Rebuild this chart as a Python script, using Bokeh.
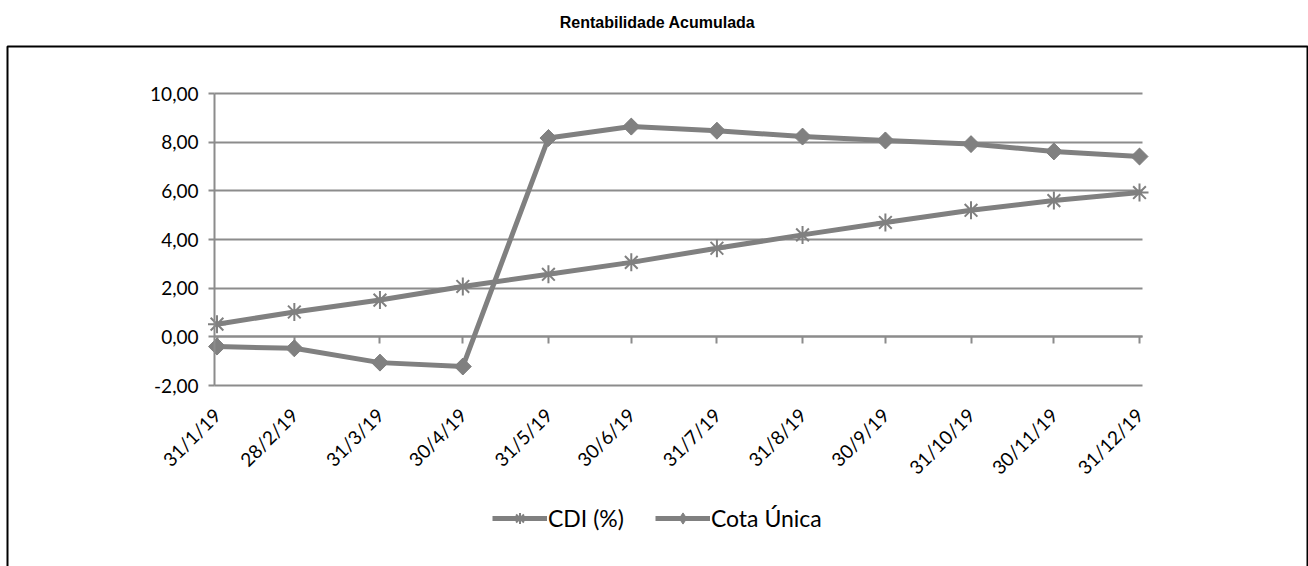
import math
import pandas as pd
from bokeh.plotting import figure
from bokeh.models import (Range1d, FixedTicker, LinearAxis, Legend, LegendItem, Label, Grid,
                          BoxAnnotation, CustomJSTickFormatter, ColumnDataSource)
from bokeh.core.properties import value
from bokeh.embed import file_html
from bokeh.resources import INLINE

# ---- data ----
title_text = "Rentabilidade Acumulada"
series_names = ["CDI (%)", "Cota Única"]
dates = ["2019-01-31", "2019-02-28", "2019-03-31", "2019-04-30", "2019-05-31", "2019-06-30",
         "2019-07-31", "2019-08-31", "2019-09-30", "2019-10-31", "2019-11-30", "2019-12-31"]
x_tick_labels = ["31/1/19", "28/2/19", "31/3/19", "30/4/19", "31/5/19", "30/6/19",
                 "31/7/19", "31/8/19", "30/9/19", "31/10/19", "30/11/19", "31/12/19"]
cdi = [0.52, 1.02, 1.51, 2.07, 2.57, 3.06, 3.64, 4.19, 4.70, 5.20, 5.60, 5.93]
cota = [-0.40, -0.47, -1.06, -1.22, 8.17, 8.64, 8.47, 8.23, 8.07, 7.92, 7.62, 7.41]
y_ticks = [-2, 0, 2, 4, 6, 8, 10]
y_tick_labels = ["-2,00", "0,00", "2,00", "4,00", "6,00", "8,00", "10,00"]

x = pd.to_datetime(dates)
x_ms = [int(t.value // 10**6) for t in x]

SERIES = "#808080"
GRID = "#8c8c8c"
FONT = "Lato"
W, H = 1308, 566

# ---- layout geometry (pixels) ----
PX_LEFT, PX_RIGHT = 214, 1142          # plot area edges
PX_FIRST, PX_LAST = 216.5, 1139        # first / last date
PY_TOP, PY_BOT = 93, 385               # y = 10 / y = -2
ky = (PY_BOT - PY_TOP) / (y_ticks[-1] - y_ticks[0])
span_days = (x[-1] - x[0]).days
kx = (PX_LAST - PX_FIRST) / span_days   # px per day


def day_offset(px):
    return pd.Timedelta(days=px / kx)


x_start = x[0] - day_offset(PX_FIRST)
x_end = x[-1] + day_offset(W - PX_LAST)
y_end = y_ticks[-1] + PY_TOP / ky
y_start = y_ticks[0] - (H - PY_BOT) / ky

x_lo = x[0] - day_offset(PX_FIRST - PX_LEFT)
x_hi = x[-1] + day_offset(PX_RIGHT - PX_LAST)
x_lo_ms = x_lo.value / 1e6
x_hi_ms = x_hi.value / 1e6

p = figure(width=W, height=H, x_axis_type=None, y_axis_type=None, output_backend="svg",
           toolbar_location=None, title=None,
           x_range=Range1d(x_start, x_end), y_range=Range1d(y_start, y_end),
           min_border=0, min_border_left=0, min_border_right=0,
           min_border_top=0, min_border_bottom=0)
p.outline_line_color = None
p.background_fill_color = "white"
p.border_fill_color = "white"

# horizontal grid lines restricted to the plot area
yg = Grid(dimension=1, ticker=FixedTicker(ticks=y_ticks), grid_line_color=GRID, grid_line_width=2)
try:
    yg.cross_bounds = (x_lo_ms, x_hi_ms)
    p.add_layout(yg, "center")
except AttributeError:
    n = len(y_ticks)
    p.segment(x0=[x_lo] * n, x1=[x_hi] * n, y0=y_ticks, y1=y_ticks,
              line_color=GRID, line_width=2, level="underlay")

src = ColumnDataSource(dict(x=x, cdi=cdi, cota=cota))
l1 = p.line("x", "cdi", source=src, line_color=SERIES, line_width=5, line_join="round")
s1 = p.scatter("x", "cdi", source=src, marker="asterisk", size=18, line_color=SERIES, line_width=2)
l2 = p.line("x", "cota", source=src, line_color=SERIES, line_width=5, line_join="round")
s2d = p.scatter("x", "cota", source=src, marker="diamond", size=16,
                fill_color=SERIES, line_color=SERIES)
s2 = p.scatter("x", "cota", source=src, marker="square", angle=math.pi / 4, size=12,
               fill_color=SERIES, line_color=SERIES)

# x axis labels, at the bottom of the plot area
xa = LinearAxis(fixed_location=y_ticks[0], bounds=(x_lo_ms, x_hi_ms),
                ticker=FixedTicker(ticks=x_ms),
                major_label_overrides=dict(zip(x_ms, x_tick_labels)),
                major_label_orientation=math.pi / 4,
                axis_line_color=None, major_tick_line_color=None, minor_tick_line_color=None,
                major_label_standoff=20, major_label_text_font=FONT,
                major_label_text_font_size="19px", major_label_text_color="black")
p.add_layout(xa, "below")

# x axis line with ticks, crossing at 0
ax0 = LinearAxis(fixed_location=0, bounds=(x_lo_ms, x_hi_ms), ticker=FixedTicker(ticks=x_ms),
                 formatter=CustomJSTickFormatter(code="return ''"),
                 axis_line_color=GRID, axis_line_width=2,
                 major_tick_out=7, major_tick_in=0, major_tick_line_color=GRID,
                 major_tick_line_width=2, minor_tick_line_color=None)
ax0.level = "underlay"
p.add_layout(ax0, "below")

# y axis
ya = LinearAxis(fixed_location=x_lo_ms, bounds=(y_ticks[0], y_ticks[-1]),
                ticker=FixedTicker(ticks=y_ticks),
                major_label_overrides=dict(zip(y_ticks, y_tick_labels)),
                axis_line_color=GRID, axis_line_width=2,
                major_tick_out=6, major_tick_in=0, major_tick_line_color=GRID,
                major_tick_line_width=2, minor_tick_line_color=None,
                major_label_standoff=10, major_label_text_font=FONT,
                major_label_text_font_size="19px", major_label_text_color="black")
p.add_layout(ya, "left")

# legend
legend = Legend(items=[LegendItem(label=value(series_names[0]), renderers=[l1, s1]),
                       LegendItem(label=value(series_names[1]), renderers=[l2, s2d])],
                location=(492, 34), orientation="horizontal",
                glyph_width=55, glyph_height=28, label_standoff=1, spacing=31,
                padding=0, margin=0, border_line_color=None, background_fill_alpha=0,
                label_text_font=FONT, label_text_font_size="23px", label_text_color="black")
p.add_layout(legend)

# title and outer box
p.add_layout(Label(x=657, y=H - 22, x_units="screen", y_units="screen", text=title_text,
                   text_align="center", text_baseline="middle", text_font="Liberation Sans",
                   text_font_style="bold", text_font_size="16px", text_color="black"))
p.add_layout(BoxAnnotation(left=7, right=1307, top=H - 46, bottom=-20,
                           left_units="screen", right_units="screen",
                           top_units="screen", bottom_units="screen",
                           fill_alpha=0, fill_color=None,
                           line_color="black", line_alpha=1.0, line_width=2))

open("out.html", "w").write(file_html(p, INLINE))
